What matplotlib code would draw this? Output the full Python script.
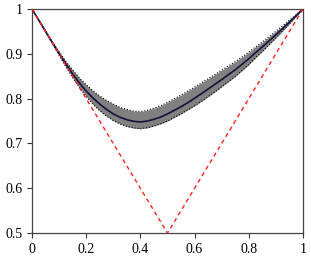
import numpy as np
import matplotlib
matplotlib.use('Agg')
import matplotlib.pyplot as plt

plt.rcParams['font.family'] = ['Liberation Serif', 'DejaVu Serif']

# curve
x = [0.0, 0.025, 0.05, 0.075, 0.1, 0.125, 0.15, 0.175, 0.2, 0.225,
     0.25, 0.275, 0.3, 0.325, 0.35, 0.375, 0.4, 0.425, 0.45, 0.475,
     0.5, 0.525, 0.55, 0.575, 0.6, 0.625, 0.65, 0.675, 0.7, 0.725,
     0.75, 0.775, 0.8, 0.825, 0.85, 0.875, 0.9, 0.925, 0.95, 0.975, 1.0]
mean = [1.000, 0.975, 0.950, 0.925, 0.9005, 0.877, 0.855, 0.835, 0.817, 0.8015,
        0.788, 0.776, 0.766, 0.7585, 0.753, 0.7495, 0.748, 0.750, 0.754, 0.759,
        0.766, 0.774, 0.782, 0.791, 0.801, 0.811, 0.8215, 0.832, 0.8425, 0.8535,
        0.8645, 0.8765, 0.889, 0.9025, 0.9155, 0.929, 0.9425, 0.9565, 0.971, 0.9855, 1.000]
# spread of the grey band above / below the line
band_up = [0.0, 0.0005, 0.001, 0.002, 0.004, 0.006, 0.009, 0.011, 0.014, 0.016,
           0.018, 0.020, 0.022, 0.022, 0.023, 0.023, 0.023, 0.024, 0.025, 0.025,
           0.026, 0.026, 0.026, 0.026, 0.025, 0.024, 0.023, 0.022, 0.021, 0.0195,
           0.018, 0.0165, 0.015, 0.013, 0.011, 0.0095, 0.008, 0.006, 0.004, 0.002, 0.0]
band_down = [0.0, 0.0005, 0.001, 0.002, 0.004, 0.006, 0.008, 0.010, 0.012, 0.014,
             0.015, 0.015, 0.015, 0.015, 0.015, 0.015, 0.015, 0.015, 0.015, 0.015,
             0.016, 0.016, 0.016, 0.016, 0.017, 0.017, 0.017, 0.017, 0.016, 0.0155,
             0.015, 0.014, 0.013, 0.0115, 0.010, 0.0085, 0.007, 0.0055, 0.004, 0.002, 0.0]

# red dashed reference
ref_x = [0.0, 0.5, 1.0]
ref_y = [1.0, 0.5, 1.0]

xticks = [0, 0.2, 0.4, 0.6, 0.8, 1]
xlabels = ['0', '0.2', '0.4', '0.6', '0.8', '1']
yticks = [0.5, 0.6, 0.7, 0.8, 0.9, 1]
ylabels = ['0.5', '0.6', '0.7', '0.8', '0.9', '1']

upper = np.array(mean) + np.array(band_up)
lower = np.array(mean) - np.array(band_down)

fig = plt.figure(figsize=(3.11, 2.59), dpi=100)
ax = fig.add_axes([0.103, 0.100, 0.871, 0.865])

ax.fill_between(x, lower, upper, color='#808080', linewidth=0, zorder=1)
ax.plot(x, upper, color='black', linestyle=':', linewidth=0.8, zorder=2)
ax.plot(x, lower, color='black', linestyle=':', linewidth=0.8, zorder=2)
ax.plot(x, mean, color='#12123a', linewidth=1.2, zorder=3)
ax.plot(ref_x, ref_y, color='#ff2020', linestyle=(0, (3, 2.5)), linewidth=1.0, zorder=4)

ax.set_xlim(0, 1)
ax.set_ylim(0.5, 1)
ax.set_xticks(xticks)
ax.set_xticklabels(xlabels)
ax.set_yticks(yticks)
ax.set_yticklabels(ylabels)
ax.tick_params(direction='out', length=3.5, width=0.8, colors='#333333',
               labelsize=10, labelcolor='black', top=False, right=False)
for s in ax.spines.values():
    s.set_color('#444444')
    s.set_linewidth(0.9)

fig.savefig('out.png', dpi=100)
